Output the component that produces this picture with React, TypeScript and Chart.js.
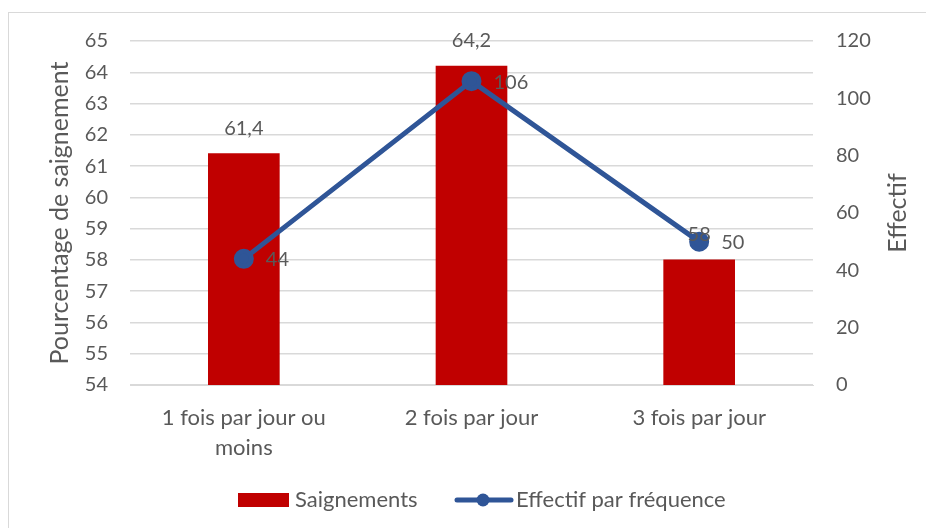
import React, { useEffect, useRef } from "react";
import { Chart, registerables } from "chart.js";

Chart.register(...registerables);

const categories: (string | string[])[] = [["1 fois par jour ou", "moins"], "2 fois par jour", "3 fois par jour"];
const saignements = [61.4, 64.2, 58];
const saignementsLabels = ["61,4", "64,2", "58"];
const effectif = [44, 106, 50];
const leftTitle = "Pourcentage de saignement";
const rightTitle = "Effectif";
const legendBar = "Saignements";
const legendLine = "Effectif par fréquence";

const FONT = "Lato, 'Open Sans', sans-serif";
const TEXT = "#595959";
const GRID = "#d9d9d9";
const RED = "#c00000";
const BLUE = "#2f5597";

const W = 938;
const H = 528;
const PLOT_L = 121;
const PLOT_R = 804;
const PLOT_T = 28;
const PLOT_B = 372;

export default function App() {
  const ref = useRef<HTMLCanvasElement | null>(null);
  useEffect(() => {
    document.documentElement.style.overflow = "hidden";
    document.body.style.overflow = "hidden";
    const canvas = ref.current!;
    const labelsPlugin = {
      id: "customLabels",
      afterDraw(chart: any) {
        const ctx = chart.ctx;
        ctx.save();
        ctx.fillStyle = TEXT;
        ctx.font = `20px ${FONT}`;
        ctx.textBaseline = "middle";
        const m0 = chart.getDatasetMeta(0);
        m0.data.forEach((el: any, i: number) => {
          ctx.textAlign = "center";
          ctx.fillText(saignementsLabels[i], el.x, el.y - 25);
        });
        const m1 = chart.getDatasetMeta(1);
        m1.data.forEach((el: any, i: number) => {
          ctx.textAlign = "left";
          ctx.fillText(String(effectif[i]), el.x + 22, el.y + 1);
        });
        ctx.font = `25px ${FONT}`;
        ctx.textAlign = "center";
        const cy = (chart.chartArea.top + chart.chartArea.bottom) / 2;
        ctx.save();
        ctx.translate(51, cy);
        ctx.rotate(-Math.PI / 2);
        ctx.fillText(leftTitle, 0, 0);
        ctx.restore();
        ctx.save();
        ctx.translate(889, cy);
        ctx.rotate(-Math.PI / 2);
        ctx.fillText(rightTitle, 0, 0);
        ctx.restore();
        const ly = 487;
        ctx.font = `22px ${FONT}`;
        ctx.fillStyle = RED;
        ctx.fillRect(229, ly - 7, 51, 14);
        ctx.fillStyle = TEXT;
        ctx.textAlign = "left";
        ctx.fillText(legendBar, 286, ly);
        ctx.strokeStyle = BLUE;
        ctx.lineWidth = 5;
        ctx.lineCap = "round";
        ctx.beginPath();
        ctx.moveTo(448, ly);
        ctx.lineTo(502, ly);
        ctx.stroke();
        ctx.fillStyle = BLUE;
        ctx.beginPath();
        ctx.arc(474, ly, 6.5, 0, Math.PI * 2);
        ctx.fill();
        ctx.fillStyle = TEXT;
        ctx.fillText(legendLine, 507, ly);
        ctx.restore();
      },
    };
    const chart = new Chart(canvas, {
      data: {
        labels: categories,
        datasets: [
          {
            type: "bar",
            label: legendBar,
            data: saignements,
            backgroundColor: RED,
            barThickness: 71,
            yAxisID: "y",
            order: 1,
          },
          {
            type: "line",
            label: legendLine,
            data: effectif,
            borderColor: BLUE,
            backgroundColor: BLUE,
            borderWidth: 5,
            pointRadius: 7.5,
            pointHoverRadius: 7.5,
            pointBackgroundColor: BLUE,
            pointBorderColor: BLUE,
            yAxisID: "y1",
            order: 0,
          },
        ],
      } as any,
      options: {
        responsive: false,
        animation: false,
        layout: { padding: { top: PLOT_T, left: 0, right: 0, bottom: 0 } },
        plugins: { legend: { display: false }, tooltip: { enabled: false } },
        scales: {
          x: {
            grid: { display: false, drawTicks: false },
            border: { display: true, color: GRID, width: 1 },
            ticks: { color: TEXT, font: { family: FONT, size: 22, lineHeight: 30 / 22 }, padding: 18, maxRotation: 0, autoSkip: false },
            afterFit(scale: any) {
              scale.height = H - PLOT_B;
              scale.paddingLeft = 0;
              scale.paddingRight = 0;
            },
          },
          y: {
            position: "left",
            min: 54,
            max: 65,
            grid: { color: GRID, lineWidth: 1.5, drawTicks: false },
            border: { display: false },
            ticks: { stepSize: 1, color: TEXT, font: { family: FONT, size: 20 }, padding: 22 },
            afterFit(scale: any) {
              scale.width = PLOT_L;
              scale.paddingTop = 0;
              scale.paddingBottom = 0;
            },
          },
          y1: {
            position: "right",
            min: 0,
            max: 120,
            grid: { display: false, drawTicks: false },
            border: { display: false },
            ticks: { stepSize: 20, color: TEXT, font: { family: FONT, size: 20 }, padding: 23 },
            afterFit(scale: any) {
              scale.width = W - PLOT_R;
              scale.paddingTop = 0;
              scale.paddingBottom = 0;
            },
          },
        },
      } as any,
      plugins: [labelsPlugin],
    });
    return () => chart.destroy();
  }, []);
  return (
    <div
      style={{
        marginTop: 4,
        width: 940,
        height: 530,
        border: "1px solid #d9d9d9",
        boxSizing: "border-box",
        background: "#fff",
      }}
    >
      <canvas ref={ref} width={W} height={H} style={{ display: "block", width: W, height: H }} />
    </div>
  );
}
